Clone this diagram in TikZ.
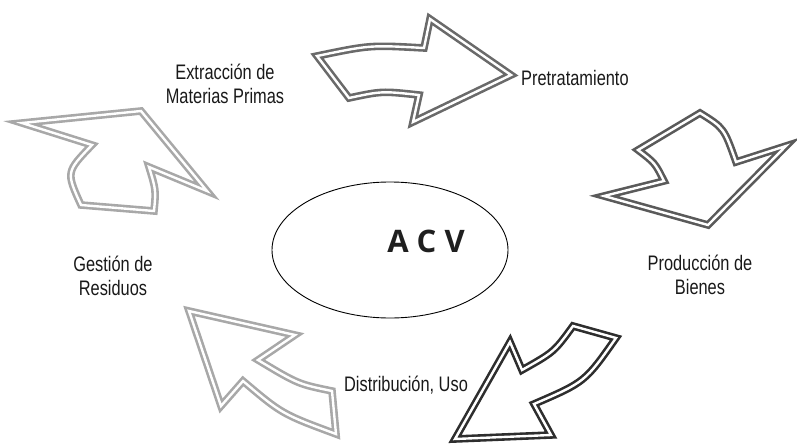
\documentclass[tikz,border=0pt]{standalone}
\usepackage{fontspec}
\setmainfont{Liberation Sans}[FakeStretch=0.78]
\newfontfamily\acvfont{Open Sans}
\usetikzlibrary{shapes.geometric}
\definecolor{grismedio}{HTML}{6A6A6A}
\definecolor{grisoscuro}{HTML}{5A5A5A}
\definecolor{casinegro}{HTML}{2E2E2E}
\definecolor{grisclaro}{HTML}{A8A8A8}
\begin{document}
\begin{tikzpicture}[x=1pt, y=-1pt,
                    etapa/.style={font=\fontsize{21}{24}\selectfont, text=black!90, align=center, inner sep=0pt},
                    flecha/.style={draw=#1, line width=2.6pt, double=white, double distance=2.4pt, line join=miter, miter limit=20},
                    ciclo/.style={draw, ellipse, line width=0.9pt, minimum width=236pt, minimum height=136pt, inner sep=0pt}]
  \useasboundingbox (0,0) rectangle (797,444);
  % centro
  \node[ciclo] (ciclo) at (390,250) {};
  \node[font=\acvfont\bfseries\fontsize{31}{31}\selectfont, text=black!88] (acv) at (426,241) {A C V};
  % etapas del ciclo
  \node[etapa] (extraccion) at (225,84) {Extracción de\\Materias Primas};
  \node[etapa, anchor=west] (pretratamiento) at (521,78) {Pretratamiento};
  \node[etapa] (produccion) at (700,275) {Producción de\\Bienes};
  \node[etapa] (distribucion) at (406,385) {Distribución, Uso};
  \node[etapa] (gestion) at (113,276) {Gestión de\\Residuos};
  % flechas
  \draw[flecha=grismedio] (317,56) .. controls (370,45) .. (424,48) -- (430,19) -- (511,75) -- (413,122)
    -- (419,95) .. controls (382,91) .. (349,98) -- cycle;
  \draw[flecha=grisoscuro] (638,150) -- (700,113) .. controls (724,128) .. (736,162) -- (786,146) -- (708,225)
    -- (604,196) -- (664,181) .. controls (655,163) .. (638,150) -- cycle;
  \draw[flecha=casinegro] (510,342) -- (522,370) .. controls (554,352) .. (573,326) -- (616,338)
    .. controls (585,382) .. (534,404) -- (551,435) -- (455,439) -- cycle;
  \draw[flecha=grisclaro] (189,311) -- (295,335) -- (258,360) .. controls (298,384) .. (332,391) -- (336,434)
    .. controls (282,414) .. (243,381) -- (221,406) -- cycle;
  \draw[flecha=grisclaro] (22,123) -- (141,111) -- (207,191) -- (149,167) .. controls (156,190) .. (154,211)
    -- (81,205) .. controls (66,172) .. (92,145) -- cycle;
\end{tikzpicture}
\end{document}
